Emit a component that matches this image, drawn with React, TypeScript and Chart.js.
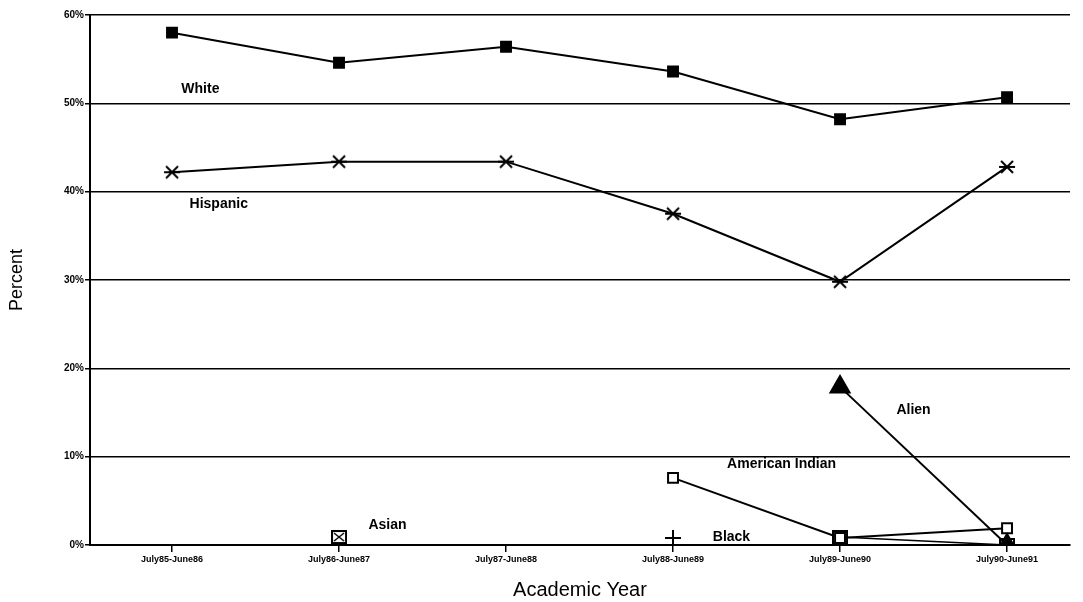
import React, { useEffect, useRef } from "react";
import { Chart, registerables } from "chart.js";

Chart.register(...registerables);

const categories = ["July85-June86", "July86-June87", "July87-June88", "July88-June89", "July89-June90", "July90-June91"];
const white = [58.0, 54.6, 56.4, 53.6, 48.2, 50.7];
const hispanic = [42.2, 43.4, 43.4, 37.5, 29.8, 42.8];
const alien = [null, null, null, null, 17.9, 0.0];
const americanIndian = [null, null, null, 7.6, 0.8, 1.9];
const asian = [null, 0.9, null, null, 0.9, 0.0];
const black = [null, null, null, 0.8, null, null];
const yTicks = [0, 10, 20, 30, 40, 50, 60];

const seriesLabels = [
  { text: "White", x: 0.17, y: 51.6 },
  { text: "Hispanic", x: 0.28, y: 38.6 },
  { text: "Asian", x: 1.29, y: 2.2 },
  { text: "Black", x: 3.35, y: 0.9 },
  { text: "American Indian", x: 3.65, y: 9.1 },
  { text: "Alien", x: 4.44, y: 15.3 },
];

const toPts = (arr: (number | null)[]) => arr.map((v, i) => ({ x: i, y: v }));

function asteriskMarker() {
  const c = document.createElement("canvas");
  c.width = 20;
  c.height = 16;
  const g = c.getContext("2d")!;
  g.strokeStyle = "#000";
  g.lineWidth = 2;
  g.beginPath();
  g.moveTo(2, 8); g.lineTo(18, 8);
  g.moveTo(4, 2); g.lineTo(16, 14);
  g.moveTo(16, 2); g.lineTo(4, 14);
  g.stroke();
  return c;
}

function boxXMarker() {
  const c = document.createElement("canvas");
  c.width = 16;
  c.height = 14;
  const g = c.getContext("2d")!;
  g.fillStyle = "#fff";
  g.fillRect(1, 1, 14, 12);
  g.strokeStyle = "#000";
  g.lineWidth = 2;
  g.strokeRect(1, 1, 14, 12);
  g.lineWidth = 1.5;
  g.beginPath();
  g.moveTo(3, 3); g.lineTo(13, 11);
  g.moveTo(13, 3); g.lineTo(3, 11);
  g.stroke();
  return c;
}

const labelPlugin = {
  id: "seriesLabels",
  afterDatasetsDraw(chart: any) {
    const { ctx, scales } = chart;
    ctx.save();
    ctx.fillStyle = "#000";
    ctx.font = "bold 14px 'Liberation Sans', Arial, sans-serif";
    ctx.textAlign = "center";
    ctx.textBaseline = "middle";
    seriesLabels.forEach((l) => {
      ctx.fillText(l.text, scales.x.getPixelForValue(l.x), scales.y.getPixelForValue(l.y));
    });
    ctx.restore();
  },
};

export default function App() {
  const ref = useRef<HTMLCanvasElement>(null);
  useEffect(() => {
    if (!ref.current) return;
    const base = { borderColor: "#000", borderWidth: 2, pointBorderColor: "#000", pointBorderWidth: 2, spanGaps: false, showLine: true };
    const chart = new Chart(ref.current, {
      type: "line",
      data: {
        datasets: [
          { ...base, label: "White", data: toPts(white), pointStyle: "rect", pointRadius: 7, pointBackgroundColor: "#000" },
          { ...base, label: "Hispanic", data: toPts(hispanic), pointStyle: asteriskMarker(), pointRadius: 9, pointBackgroundColor: "#000" },
          { ...base, label: "Alien", data: toPts(alien), pointStyle: "triangle", pointRadius: 11, pointBackgroundColor: "#000" },
          { ...base, label: "American Indian", data: toPts(americanIndian), pointStyle: "rect", pointRadius: 7, pointBackgroundColor: "#fff" },
          { ...base, label: "Asian", data: toPts(asian), pointStyle: boxXMarker(), pointRadius: 7, borderWidth: 1.5 },
          { ...base, label: "Black", data: toPts(black), pointStyle: "cross", pointRadius: 8, pointBackgroundColor: "#000" },
        ] as any,
      },
      options: {
        animation: false,
        responsive: false,
        maintainAspectRatio: false,
        layout: { padding: { top: 15, right: 0, left: 0, bottom: 0 } },
        plugins: { legend: { display: false }, tooltip: { enabled: false } },
        scales: {
          x: {
            type: "linear",
            min: -0.491,
            max: 5.377,
            afterBuildTicks: (s: any) => {
              s.ticks = categories.map((_, i) => ({ value: i }));
            },
            afterFit: (s: any) => {
              s.height = 57;
            },
            grid: { display: true, drawOnChartArea: false, drawTicks: true, tickLength: 7, color: "#000", lineWidth: 1.5 },
            border: { display: true, color: "#000", width: 2 },
            ticks: {
              autoSkip: false,
              maxRotation: 0,
              padding: 2,
              color: "#000",
              font: { size: 9, weight: "bold", family: "'Liberation Sans', Arial, sans-serif" },
              callback: (v: any) => categories[v] ?? "",
            },
            title: {
              display: true,
              text: "Academic Year",
              color: "#000",
              padding: { top: 4, bottom: 0 },
              font: { size: 20, family: "'Liberation Sans', Arial, sans-serif" },
            },
          },
          y: {
            min: 0,
            max: 60,
            afterBuildTicks: (s: any) => {
              s.ticks = yTicks.map((v) => ({ value: v }));
            },
            afterFit: (s: any) => {
              s.width = 90;
            },
            grid: { color: "#000", lineWidth: 1.5, tickLength: 5, drawTicks: true },
            border: { display: true, color: "#000", width: 2 },
            ticks: {
              padding: 1,
              color: "#000",
              font: { size: 10, weight: "bold", family: "'Liberation Sans', Arial, sans-serif" },
              callback: (v: any) => v + "%",
            },
            title: {
              display: true,
              text: "Percent",
              color: "#000",
              padding: { top: 6, bottom: 30 },
              font: { size: 18, family: "'Liberation Sans', Arial, sans-serif" },
            },
          },
        },
      } as any,
      plugins: [labelPlugin],
    });
    return () => chart.destroy();
  }, []);
  return (
    <div style={{ position: "fixed", left: 0, top: 0, width: 1083, height: 602, background: "#fff" }}>
      <canvas ref={ref} width={1083} height={602} style={{ display: "block", width: 1083, height: 602 }} />
    </div>
  );
}
